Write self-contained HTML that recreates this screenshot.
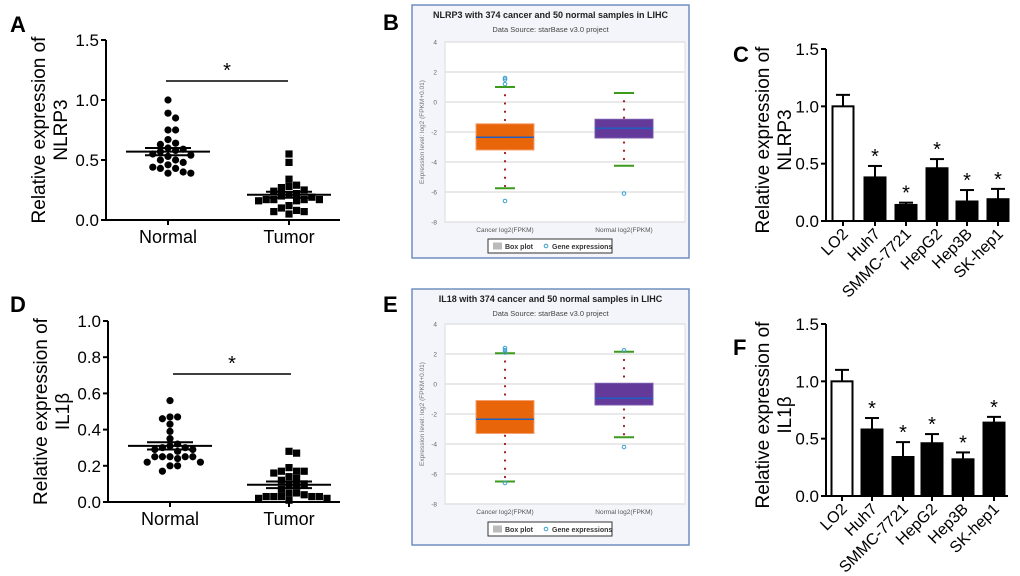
<!DOCTYPE html>
<html><head><meta charset="utf-8"><style>
body{margin:0;background:#fff;width:1020px;height:576px;overflow:hidden}
svg{display:block;font-family:"Liberation Sans",Arial,sans-serif}
</style></head><body>
<svg id="fig" width="1020" height="576" viewBox="0 0 1020 576"></svg>
<script>
// ---- Panel A / D scatter data ----
const scatterCats = ["Normal","Tumor"];
const aNormal = [1.0,0.89,0.85,0.75,0.75,0.67,0.64,0.63,0.6,0.59,0.58,0.57,0.55,0.54,0.53,0.5,0.5,0.48,0.46,0.44,0.43,0.43,0.4,0.39,0.39];
const aTumor = [0.55,0.48,0.34,0.29,0.28,0.27,0.25,0.24,0.22,0.21,0.2,0.19,0.17,0.17,0.17,0.17,0.16,0.16,0.12,0.1,0.08,0.07,0.07,0.05];
const aMean = [0.57,0.21], aSem = [0.03,0.025];
const aTicks = [0,0.5,1.0,1.5], aTickLabels = ["0.0","0.5","1.0","1.5"];
const dNormal = [0.56,0.47,0.47,0.46,0.43,0.39,0.35,0.32,0.31,0.3,0.3,0.29,0.29,0.28,0.25,0.25,0.25,0.25,0.25,0.24,0.22,0.22,0.2,0.2,0.17];
const dTumor = [0.28,0.27,0.19,0.17,0.17,0.17,0.16,0.14,0.13,0.12,0.1,0.1,0.09,0.07,0.05,0.05,0.04,0.03,0.03,0.03,0.03,0.03,0.02,0.02,0.01];
const dMean = [0.31,0.095], dSem = [0.02,0.018];
const dTicks = [0,0.2,0.4,0.6,0.8,1.0], dTickLabels = ["0.0","0.2","0.4","0.6","0.8","1.0"];
// ---- Panel C / F bar data ----
const barCats = ["LO2","Huh7","SMMC-7721","HepG2","Hep3B","SK-hep1"];
const cValues = [1.0,0.38,0.14,0.46,0.17,0.19];
const cErrors = [0.1,0.1,0.02,0.08,0.1,0.09];
const fValues = [1.0,0.58,0.34,0.46,0.32,0.64];
const fErrors = [0.1,0.1,0.13,0.08,0.06,0.05];
const barTicks = [0,0.5,1.0,1.5], barTickLabels = ["0.0","0.5","1.0","1.5"];
// ---- Panel B / E box data ----
const boxCats = ["Cancer log2(FPKM)","Normal log2(FPKM)"];
const bQ1=[-3.2,-2.4], bQ3=[-1.45,-1.15], bMed=[-2.35,-1.75], bLo=[-5.75,-4.25], bHi=[1.0,0.6];
const bOut=[[1.6,1.5,1.2,-6.6],[-6.1]];
const eQ1=[-3.3,-1.4], eQ3=[-1.1,0.05], eMed=[-2.35,-0.95], eLo=[-6.5,-3.55], eHi=[2.05,2.15];
const eOut=[[2.4,2.25,2.1,-6.6],[2.25,-4.2]];
const boxTicks=[4,2,0,-2,-4,-6,-8];

const NS="http://www.w3.org/2000/svg";
const svg=document.getElementById('fig');
function el(tag,attrs,parent,txt){const e=document.createElementNS(NS,tag);for(const k in attrs)e.setAttribute(k,attrs[k]);if(txt!==undefined)e.textContent=txt;(parent||svg).appendChild(e);return e;}
function grp(name){const g=el('g',{});return g;}

function panelLetter(t,x,y){const e=el('text',{x:x,y:y,'font-size':22,'font-weight':'bold'},svg,t);

}

function yTitle(g,x1,x2,cy,l2){
 const t=el('text',{transform:`translate(${x1},${cy}) rotate(-90)`,'text-anchor':'middle','font-size':19},g,'Relative expression of');
 
 
 el('text',{transform:`translate(${x2},${cy}) rotate(-90)`,'text-anchor':'middle','font-size':19},g,l2);
}

function scatter(name,ax,y0,yTop,vmax,cx,series,means,sems,ticks,tlabels,sig,gene,xend,shapes){
 const g=grp(name);
 const y=v=>y0-(v/vmax)*(y0-yTop);
 el('line',{x1:ax,y1:yTop,x2:ax,y2:y0,stroke:'#000','stroke-width':2},g);
 el('line',{x1:ax,y1:y0,x2:xend,y2:y0,stroke:'#000','stroke-width':2},g);
 ticks.forEach((t,i)=>{el('line',{x1:ax-5,y1:y(t),x2:ax,y2:y(t),stroke:'#000','stroke-width':2},g);
  const tl=el('text',{x:ax-7,y:y(t)+6,'text-anchor':'end','font-size':17},g,tlabels[i]);
  
  });
 cx.forEach((x,i)=>{el('line',{x1:x,y1:y0,x2:x,y2:y0+5,stroke:'#000','stroke-width':2},g);
  const xl=el('text',{x:x,y:y0+23,'text-anchor':'middle','font-size':18},g,scatterCats[i]);
  
  });
 series.forEach((s,i)=>{
  const placed=[];const r=3.6,d=7.6;
  s.forEach(v=>{const py=y(v);let off=0;
   for(let k=0;k<40;k++){const o=(k%2?1:-1)*Math.ceil(k/2)*d;
    if(placed.every(p=>Math.hypot(p[0]-o,p[1]-py)>=d-0.4)){off=o;break;}}
   placed.push([off,py]);
   let m;
   if(shapes[i]==='c'){m=el('circle',{cx:cx[i]+off,cy:py,r:r,fill:'#000'},g);}
   else{m=el('rect',{x:cx[i]+off-r,y:py-r,width:2*r,height:2*r,fill:'#000'},g);}
   
   
  });
  el('line',{x1:cx[i]-42,y1:y(means[i]),x2:cx[i]+42,y2:y(means[i]),stroke:'#000','stroke-width':2},g);
  el('line',{x1:cx[i]-23,y1:y(means[i]+sems[i]),x2:cx[i]+23,y2:y(means[i]+sems[i]),stroke:'#000','stroke-width':2},g);
  el('line',{x1:cx[i]-23,y1:y(means[i]-sems[i]),x2:cx[i]+23,y2:y(means[i]-sems[i]),stroke:'#000','stroke-width':2},g);
  el('line',{x1:cx[i],y1:y(means[i]-sems[i]),x2:cx[i],y2:y(means[i]+sems[i]),stroke:'#000','stroke-width':2},g);
 });
 el('line',{x1:sig[0],y1:sig[2],x2:sig[1],y2:sig[2],stroke:'#000','stroke-width':1.5},g);
 el('text',{x:(sig[0]+sig[1])/2,y:sig[2]-4,'text-anchor':'middle','font-size':20},g,'*');
 yTitle(g,ax-61,ax-39,(y0+yTop)/2,gene);
}

function bars(name,ax,y0,yTop,vmax,cx,vals,errs,gene,xend){
 const g=grp(name);
 const y=v=>y0-(v/vmax)*(y0-yTop);
 const bw=21;
 vals.forEach((v,i)=>{
  const top=y(v),et=y(v+errs[i]);
  el('line',{x1:cx[i],y1:top,x2:cx[i],y2:et,stroke:'#000','stroke-width':2},g);
  el('line',{x1:cx[i]-7,y1:et,x2:cx[i]+7,y2:et,stroke:'#000','stroke-width':2},g);
  const b=el('rect',{x:cx[i]-bw/2,y:top,width:bw,height:y0-top,fill:i===0?'#fff':'#000',stroke:'#000','stroke-width':2},g);
  
  
  if(i>0)el('text',{x:cx[i],y:et-3,'text-anchor':'middle','font-size':20},g,'*');
  el('line',{x1:cx[i],y1:y0,x2:cx[i],y2:y0+5,stroke:'#000','stroke-width':2},g);
  const xl=el('text',{transform:`translate(${cx[i]+6},${y0+14}) rotate(-45)`,'text-anchor':'end','font-size':16},g,barCats[i]);
  
  
 });
 el('line',{x1:ax,y1:yTop,x2:ax,y2:y0,stroke:'#000','stroke-width':2},g);
 el('line',{x1:ax,y1:y0,x2:xend,y2:y0,stroke:'#000','stroke-width':2},g);
 barTicks.forEach((t,i)=>{el('line',{x1:ax-5,y1:y(t),x2:ax,y2:y(t),stroke:'#000','stroke-width':2},g);
  el('text',{x:ax-7,y:y(t)+6,'text-anchor':'end','font-size':17},g,barTickLabels[i]);});
 yTitle(g,ax-57,ax-35,(y0+yTop)/2+5,gene);
}

function boxplot(name,fx,fy,fw,fh,px0,px1,y4,yM8,cx,q1,q3,med,lo,hi,outs,title,legY){
 const g=grp(name);
 el('rect',{x:fx,y:fy,width:fw,height:fh,fill:'#f4f5fb',stroke:'#6f8fbf','stroke-width':1.5},g);
 const y=v=>y4+(4-v)/12*(yM8-y4);
 const tt=el('text',{x:fx+fw/2,y:fy+13,'text-anchor':'middle','font-size':9,'font-weight':'bold',fill:'#222'},g,title);
 
 
 el('text',{x:fx+fw/2,y:fy+27,'text-anchor':'middle','font-size':7.5,fill:'#444'},g,'Data Source: starBase v3.0 project');
 el('rect',{x:px0,y:y4,width:px1-px0,height:yM8-y4,fill:'#fff',stroke:'#ddd'},g);
 boxTicks.forEach(t=>{el('line',{x1:px0,y1:y(t),x2:px1,y2:y(t),stroke:'#e2e2e2','stroke-width':1.5},g);
  el('text',{x:px0-8,y:y(t)+2.5,'text-anchor':'end','font-size':6.5,fill:'#666'},g,t<0?'-'+(-t):String(t));});
 el('text',{transform:`translate(${px0-21},${(y4+yM8)/2}) rotate(-90)`,'text-anchor':'middle','font-size':6.5,fill:'#777'},g,'Expression level: log2 (FPKM+0.01)');
 const cols=['#e8650a','#633a9a'];
 cx.forEach((x,i)=>{
  el('text',{x:x,y:yM8+10,'text-anchor':'middle','font-size':6.5,fill:'#555'},g,boxCats[i]);
  for(let v=hi[i];v>lo[i];v-=0.55){if(v>q3[i]||v<q1[i])el('circle',{cx:x,cy:y(v),r:1.1,fill:'#a01818'},g);}
  const b=el('rect',{x:x-29,y:y(q3[i]),width:58,height:y(q1[i])-y(q3[i]),fill:cols[i],stroke:i?'#7a5ab0':'#f5a070'},g);
  
  
  el('line',{x1:x-29,y1:y(med[i]),x2:x+29,y2:y(med[i]),stroke:'#1f5fc0','stroke-width':1.5},g);
  [lo[i],hi[i]].forEach(v=>el('line',{x1:x-10,y1:y(v),x2:x+10,y2:y(v),stroke:'#3c9a1c','stroke-width':2},g));
  outs[i].forEach(v=>el('circle',{cx:x,cy:y(v),r:1.8,fill:'none',stroke:'#3aa0d0','stroke-width':1},g));
 });
 const lg=el('g',{},g);
 
 
 el('rect',{x:488,y:legY,width:124,height:14,fill:'#fff',stroke:'#333','stroke-width':1},lg);
 el('rect',{x:493,y:legY+3.5,width:9,height:7,fill:'#bbb'},lg);
 el('text',{x:505,y:legY+10,'font-size':7,'font-weight':'bold',fill:'#333'},lg,'Box plot');
 el('circle',{cx:546,cy:legY+7,r:1.8,fill:'none',stroke:'#3aa0d0'},lg);
 el('text',{x:552,y:legY+10,'font-size':7,'font-weight':'bold',fill:'#333'},lg,'Gene expressions');
}

scatter('panel-a-scatter',106,220,40,1.5,[168,289],[aNormal,aTumor],aMean,aSem,aTicks,aTickLabels,[166,288,81],'NLRP3',340,['c','s']);
scatter('panel-d-scatter',108,502,321,1.0,[170,289],[dNormal,dTumor],dMean,dSem,dTicks,dTickLabels,[173,291,374],'IL1β',340,['c','s']);
bars('panel-c-bars',826,221,49,1.5,[843,875,906,937,967,998],cValues,cErrors,'NLRP3',1008);
bars('panel-f-bars',826,496,324,1.5,[842,872,903,932,963,994],fValues,fErrors,'IL1β',1008);
boxplot('panel-b-boxplot',412,5,277,253,445,685,42,222,[505,624],bQ1,bQ3,bMed,bLo,bHi,bOut,'NLRP3 with 374 cancer and 50 normal samples in LIHC',239);
boxplot('panel-e-boxplot',412,289,277,256,445,685,324,504,[505,624],eQ1,eQ3,eMed,eLo,eHi,eOut,'IL18 with 374 cancer and 50 normal samples in LIHC',522);

panelLetter('A',10,32);panelLetter('B',383,30);panelLetter('C',733,62);
panelLetter('D',10,312);panelLetter('E',383,312);panelLetter('F',733,355);
</script>
</body></html>
